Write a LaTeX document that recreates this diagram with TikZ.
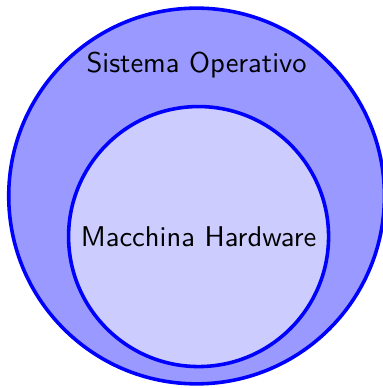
\documentclass[tikz,border=0pt]{standalone}
\usepackage{tikz}
\usetikzlibrary{positioning,shapes}

\begin{document}
\begin{tikzpicture}[node distance=0.8cm, font=\sffamily]
	\tikzstyle{layer}=[draw=blue, circle, line width=1.25pt, inner sep=0pt]

	\useasboundingbox (0pt,0pt) rectangle (133.7pt,135.8pt);

	\node[layer, fill=blue!40, minimum size=131.5pt] (os) at (68.8pt,67.2pt) {};
	\node (ostext) [below=12.5pt of os.north] {Sistema Operativo};

	\node[layer, fill=blue!20, minimum size=91pt] (hw) at (69.5pt,53pt) {Macchina Hardware};
\end{tikzpicture}
\end{document}
